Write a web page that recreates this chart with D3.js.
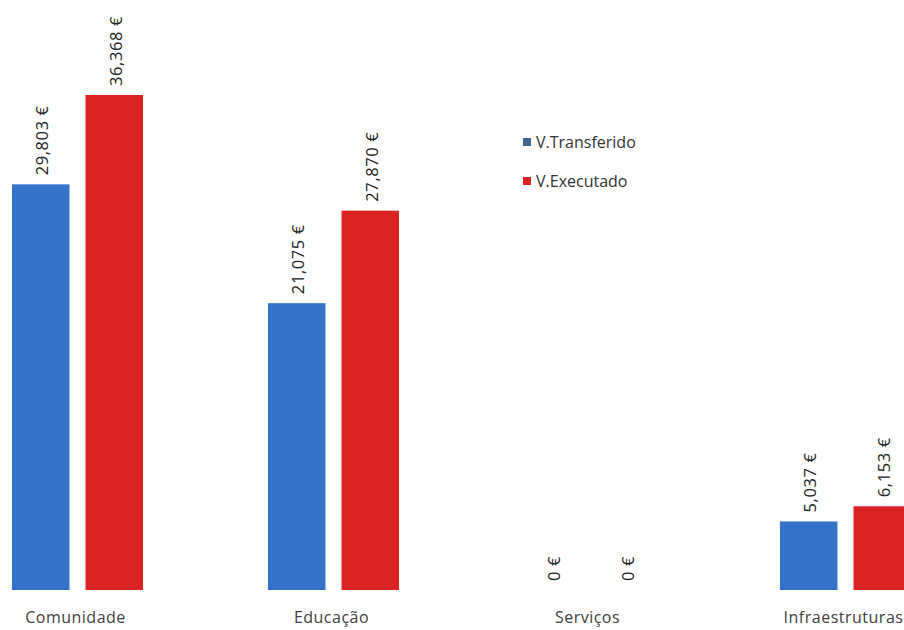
<!DOCTYPE html>
<html><head><meta charset="utf-8">
<script src="https://cdn.jsdelivr.net/npm/d3@7"></script>
<style>html,body{margin:0;padding:0;background:#fff;}svg{display:block;}</style>
</head><body><svg id="c" width="904" height="630"></svg>
<script>
const categories = ["Comunidade", "Educação", "Serviços", "Infraestruturas"];
const seriesNames = ["V.Transferido", "V.Executado"];
const transferido = [29803, 21075, 0, 5037];
const executado = [36368, 27870, 0, 6153];
const valueLabelsT = ["29,803 €", "21,075 €", "0 €", "5,037 €"];
const valueLabelsE = ["36,368 €", "27,870 €", "0 €", "6,153 €"];
const colors = ["#3473c9", "#dc2323"];
const legendColors = ["#41658f", "#dc2323"];

const svg = d3.select("#c");
const font = "'Open Sans', 'Noto Sans', sans-serif";
const baseY = 590;
const y = d3.scaleLinear().domain([0, 40000]).range([baseY, baseY - 495 * 40000 / 36368]);
const x0 = d3.scaleBand().domain(categories).range([-50.5, 973.5]).paddingInner(0.488).paddingOuter(0.244);
const x1 = d3.scaleBand().domain(seriesNames).range([0, x0.bandwidth()]).paddingInner(0.218);

const data = categories.map((c, i) => ({cat: c, vals: [
  {s: seriesNames[0], v: transferido[i], lab: valueLabelsT[i], col: colors[0]},
  {s: seriesNames[1], v: executado[i], lab: valueLabelsE[i], col: colors[1]}]}));

const g = svg.selectAll("g.cat").data(data).join("g").attr("class", "cat")
  .attr("transform", d => `translate(${x0(d.cat)},0)`);
g.selectAll("rect").data(d => d.vals).join("rect")
  .attr("x", d => x1(d.s)).attr("width", x1.bandwidth())
  .attr("y", d => y(d.v)).attr("height", d => baseY - y(d.v))
  .attr("fill", d => d.col);
g.selectAll("text.val").data(d => d.vals).join("text").attr("class", "val")
  .attr("transform", d => `translate(${x1(d.s) + x1.bandwidth() / 2 + 7.5},${y(d.v) - 9}) rotate(-90)`)
  .attr("font-family", font).attr("font-size", 16.5).attr("letter-spacing", 0.6).attr("fill", "#222")
  .text(d => d.lab);

svg.selectAll("text.cat").data(categories).join("text").attr("class", "cat")
  .attr("x", d => x0(d) + x0.bandwidth() / 2 - 2).attr("y", 623)
  .attr("text-anchor", "middle").attr("font-family", font).attr("font-size", 16).attr("letter-spacing", 0.5)
  .attr("fill", "#404040").text(d => d);

const lg = svg.selectAll("g.leg").data(seriesNames).join("g").attr("class", "leg")
  .attr("transform", (d, i) => `translate(523,${142 + i * 39})`);
lg.append("rect").attr("x", 0).attr("y", -4).attr("width", 8).attr("height", 8)
  .attr("fill", (d, i) => legendColors[i]);
lg.append("text").attr("x", 13).attr("y", 6).attr("font-family", font).attr("font-size", 16)
  .attr("fill", "#333").text(d => d);
</script></body></html>
